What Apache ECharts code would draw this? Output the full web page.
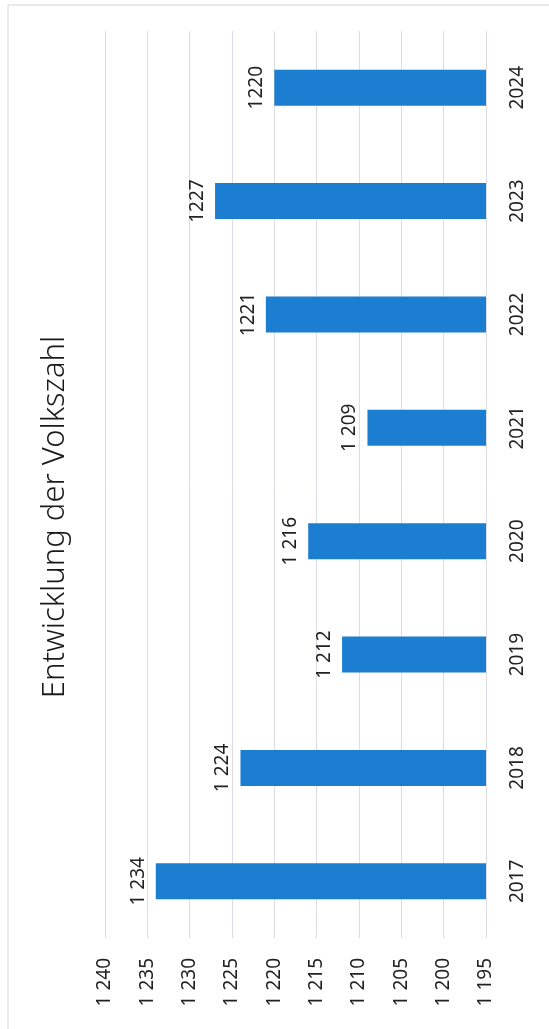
<!DOCTYPE html>
<html>
<head>
<meta charset="utf-8">
<script src="https://cdn.jsdelivr.net/npm/echarts@6/dist/echarts.min.js"></script>
<style>html,body{margin:0;padding:0;background:#fff;}#c{width:549px;height:1029px;}</style>
</head>
<body>
<div id="c"></div>
<script>
const titleText = 'Entwicklung der Volkszahl';
const years = ['2017', '2018', '2019', '2020', '2021', '2022', '2023', '2024'];
const values = [1234, 1224, 1212, 1216, 1209, 1221, 1227, 1220];
const valueLabels = ['1 234', '1 224', '1 212', '1 216', '1 209', '1221', '1227', '1220'];
const tickValues = [1195, 1200, 1205, 1210, 1215, 1220, 1225, 1230, 1235, 1240];
const tickLabels = ['1 195', '1 200', '1 205', '1 210', '1 215', '1 220', '1 225', '1 230', '1 235', '1 240'];

const FONT = '"Noto Sans", "Open Sans", sans-serif';
const chart = echarts.init(document.getElementById('c'), null, {renderer: 'canvas'});
chart.setOption({
  backgroundColor: '#ffffff',
  animation: false,
  graphic: [
    {type: 'rect', shape: {x: 8, y: 5, width: 545, height: 1030}, style: {fill: 'none', stroke: '#d6d6d6', lineWidth: 1}, silent: true},
    {type: 'text', x: 55, y: 517, rotation: Math.PI / 2,
     style: {text: titleText, font: '300 31px ' + FONT, fill: '#1a1a1a', textAlign: 'center', textVerticalAlign: 'middle'}}
  ],
  grid: {left: 105, right: 63, top: 31, bottom: 91, containLabel: false},
  xAxis: {
    type: 'value', inverse: true, position: 'bottom',
    min: tickValues[0], max: tickValues[tickValues.length - 1], interval: 5,
    axisLine: {show: false}, axisTick: {show: false},
    splitLine: {show: true, lineStyle: {color: '#dcdde2', width: 1}},
    axisLabel: {
      rotate: 90, margin: 20, color: '#222', fontSize: 19, fontFamily: FONT,
      formatter: v => { const i = tickValues.indexOf(v); return i >= 0 ? tickLabels[i] : ''; }
    }
  },
  yAxis: {
    type: 'category', position: 'right', data: years,
    axisLine: {show: false}, axisTick: {show: false}, splitLine: {show: false},
    axisLabel: {rotate: 90, margin: 22, color: '#222', fontSize: 19, fontFamily: FONT}
  },
  series: [{
    type: 'bar', data: values, barWidth: 36,
    itemStyle: {color: '#1c7ed0'},
    label: {
      show: true, position: 'left', distance: 8, rotate: 90,
      align: 'center', verticalAlign: 'bottom',
      color: '#222', fontSize: 19, fontFamily: FONT,
      formatter: p => valueLabels[p.dataIndex]
    }
  }]
});
</script>
</body>
</html>
